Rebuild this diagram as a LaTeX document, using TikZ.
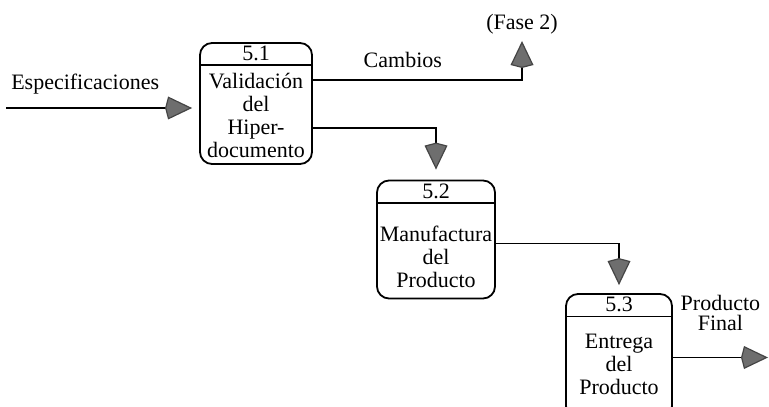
\documentclass[tikz,border=0pt]{standalone}
\usepackage{fontspec}
\setmainfont{Liberation Serif}
\usetikzlibrary{positioning, arrows.meta}
\definecolor{tipgray}{HTML}{6E6E6E}
\definecolor{tipedge}{HTML}{454545}

\tikzset{
  proc/.style={draw, rounded corners=6pt, line width=0.9pt, inner sep=0pt},
  num/.style={inner sep=0pt, minimum height=11.25pt},
  body/.style={inner sep=0pt, align=center},
  flow/.style={line width=0.9pt, -{Kite[length=13.5pt, width=11.5pt, inset=1.5pt, fill=tipgray, color=tipedge, line width=0.6pt]}},
}

\begin{document}
\begin{tikzpicture}[x=0.5pt, y=-0.5pt, font=\fontsize{11}{11.5}\selectfont]
        \useasboundingbox (0,0) rectangle (769,406);
        \clip (0,0) rectangle (769,406);

        \node[proc, minimum width=56pt, minimum height=60.5pt] (p1) at (256,103.5) {};
        \node[num, below=0pt of p1.north] (n1) {5.1};
        \node[body, below=0pt of n1, minimum height=49.25pt] (t1) {Validación\\del\\Hiper-\\documento};
        \draw[line width=0.9pt] (p1.west |- n1.south) -- (p1.east |- n1.south);

        \node[proc, minimum width=59pt, minimum height=59pt] (p2) [below right=7.35pt and 31.6pt of p1] {};
        \node[num, below=0pt of p2.north] (n2) {5.2};
        \node[body, below=0pt of n2, minimum height=47.75pt, yshift=-3pt] (t2) {Manufactura\\del\\Producto};
        \draw[line width=0.9pt] (p2.west |- n2.south) -- (p2.east |- n2.south);

        \node[proc, minimum width=53pt, minimum height=62pt] (p3) [below right=-3.15pt and 34.6pt of p2] {};
        \node[num, below=0pt of p3.north] (n3) {5.3};
        \node[body, below=0pt of n3, minimum height=50.75pt, yshift=1.75pt] (t3) {Entrega\\del\\Producto};
        \draw[line width=0.9pt] (p3.west |- n3.south) -- (p3.east |- n3.south);

        \coordinate (spec) at (6,108);
        \coordinate (fase) at (522,41);
        \coordinate (out) at (768,353);

        \draw[flow, shorten >=3.5pt] (spec) -- node[pos=0.41, above=3pt] {Especificaciones} (spec -| p1.west);
        \draw[flow] ([yshift=11.75pt]p1.east) -| node[pos=0.215, above=2.5pt] {Cambios} (fase);
        \node[above=0pt of fase] {(Fase 2)};
        \draw[flow, shorten >=5pt] ([yshift=-12.25pt]p1.east) -| (p2.north);
        \draw[flow, shorten >=4pt] ([yshift=-2pt]p2.east) -| (p3.north);
        \draw[flow] ([yshift=-0.75pt]p3.east) -- node[midway, above=9.5pt, align=center, font=\fontsize{11}{10}\selectfont] {Producto\\Final} ([yshift=-0.75pt]p3.east -| out);
    \end{tikzpicture}
\end{document}
